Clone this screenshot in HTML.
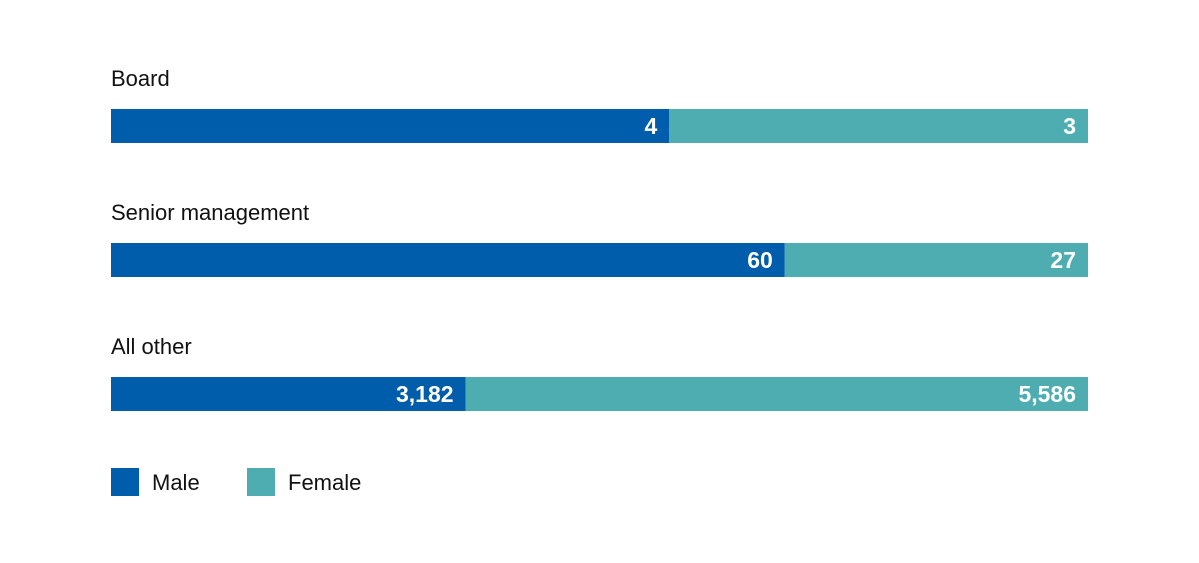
<!DOCTYPE html>
<html><head><meta charset="utf-8"><style>
body{margin:0;background:#fff;font-family:"Liberation Sans",sans-serif;}
svg{display:block}
</style></head><body>
<svg id="chart" width="1199" height="563"></svg>
<script>
const categories=["Board","Senior management","All other"];
const maleValues=[4,60,3182];
const femaleValues=[3,27,5586];
const maleLabels=["4","60","3,182"];
const femaleLabels=["3","27","5,586"];
const svg=document.getElementById('chart');
const NS='http://www.w3.org/2000/svg';
const x0=111,x1=1088,barH=34,firstY=109,step=134;
function xScale(v,total){return x0+(v/total)*(x1-x0);}
function mk(tag,attrs){const e=document.createElementNS(NS,tag);for(const k in attrs)e.setAttribute(k,attrs[k]);svg.appendChild(e);return e;}
categories.forEach((c,i)=>{
  const y=firstY+i*step,total=maleValues[i]+femaleValues[i];
  const xm=xScale(maleValues[i],total);
  const t=mk('text',{x:x0,y:y-23,'font-size':22,fill:'#111'});t.textContent=c;
  
  
  const r1=mk('rect',{x:x0,y:y,width:xm-x0,height:barH,fill:'#005DAC'});
  
  
  const r2=mk('rect',{x:xm,y:y,width:x1-xm,height:barH,fill:'#4DADB1'});
  
  
  const l1=mk('text',{x:xm-12,y:y+25,'font-size':23,'font-weight':'bold',fill:'#fff','text-anchor':'end'});l1.textContent=maleLabels[i];
  
  
  const l2=mk('text',{x:x1-12,y:y+25,'font-size':23,'font-weight':'bold',fill:'#fff','text-anchor':'end'});l2.textContent=femaleLabels[i];
  
  
});
const lm=mk('rect',{x:111,y:468,width:28,height:28,fill:'#005DAC'});


const lmt=mk('text',{x:152,y:490,'font-size':22,fill:'#111'});lmt.textContent='Male';


const lf=mk('rect',{x:247,y:468,width:28,height:28,fill:'#4DADB1'});


const lft=mk('text',{x:288,y:490,'font-size':22,fill:'#111'});lft.textContent='Female';


</script>
</body></html>
